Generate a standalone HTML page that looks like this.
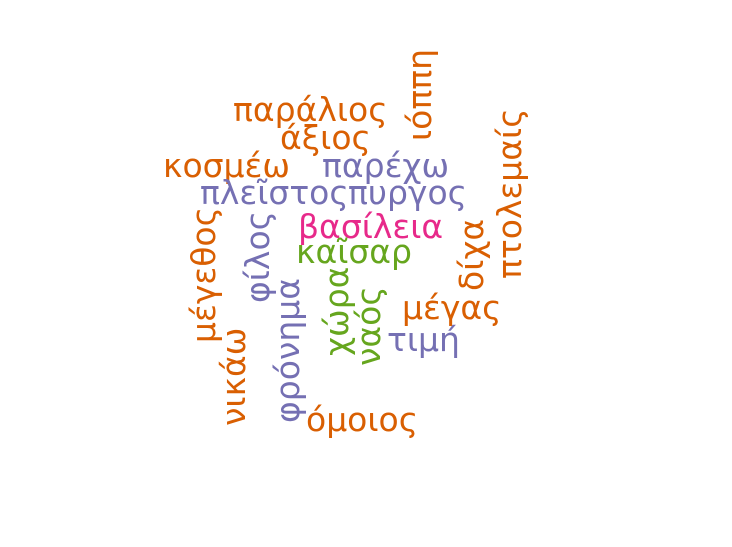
<!DOCTYPE html>
<html><head><meta charset="utf-8"><style>
html,body{margin:0;padding:0;background:#fff}
svg text{font-family:"DejaVu Sans","Liberation Sans",sans-serif;font-size:33px}
</style></head><body>
<svg id="wc" width="732" height="542" viewBox="0 0 732 542" xmlns="http://www.w3.org/2000/svg"></svg>
<script>
const words=["παράλιος","άξιος","κοσμέω","παρέχω","πλεῖστος","πυργος","βασίλεια","καῖσαρ","μέγας","τιμή","όμοιος","ιόππη","πτολεμαίς","δίχα","μέγεθος","νικάω","φίλος","φρόνημα","χώρα","ναός"];
const colorGroup=["o","o","o","p","p","p","k","g","o","p","o","o","o","o","o","o","p","p","g","g"];
const layoutX=[233,280,163,322,200,348,298,296,402,387,306,431,521,483,215,245,269,299,348,380];
const layoutY=[121,149,177,177,204,204,238,263,319,351,431,141,279,291,343,426,303,423,356,366];
const vertical=[0,0,0,0,0,0,0,0,0,0,0,1,1,1,1,1,1,1,1,1];
const palette={o:"#d95f02",p:"#7570b3",k:"#e7298a",g:"#66a61e"};
const svg=document.getElementById('wc');
words.forEach((w,i)=>{
  const t=document.createElementNS("http://www.w3.org/2000/svg","text");
  
  
  t.setAttribute('fill',palette[colorGroup[i]]);
  if(vertical[i]){
    t.setAttribute('transform','translate('+layoutX[i]+','+layoutY[i]+') rotate(-90)');
  }else{
    t.setAttribute('x',layoutX[i]);t.setAttribute('y',layoutY[i]);
  }
  t.textContent=w;
  svg.appendChild(t);
});
</script>
</body></html>
